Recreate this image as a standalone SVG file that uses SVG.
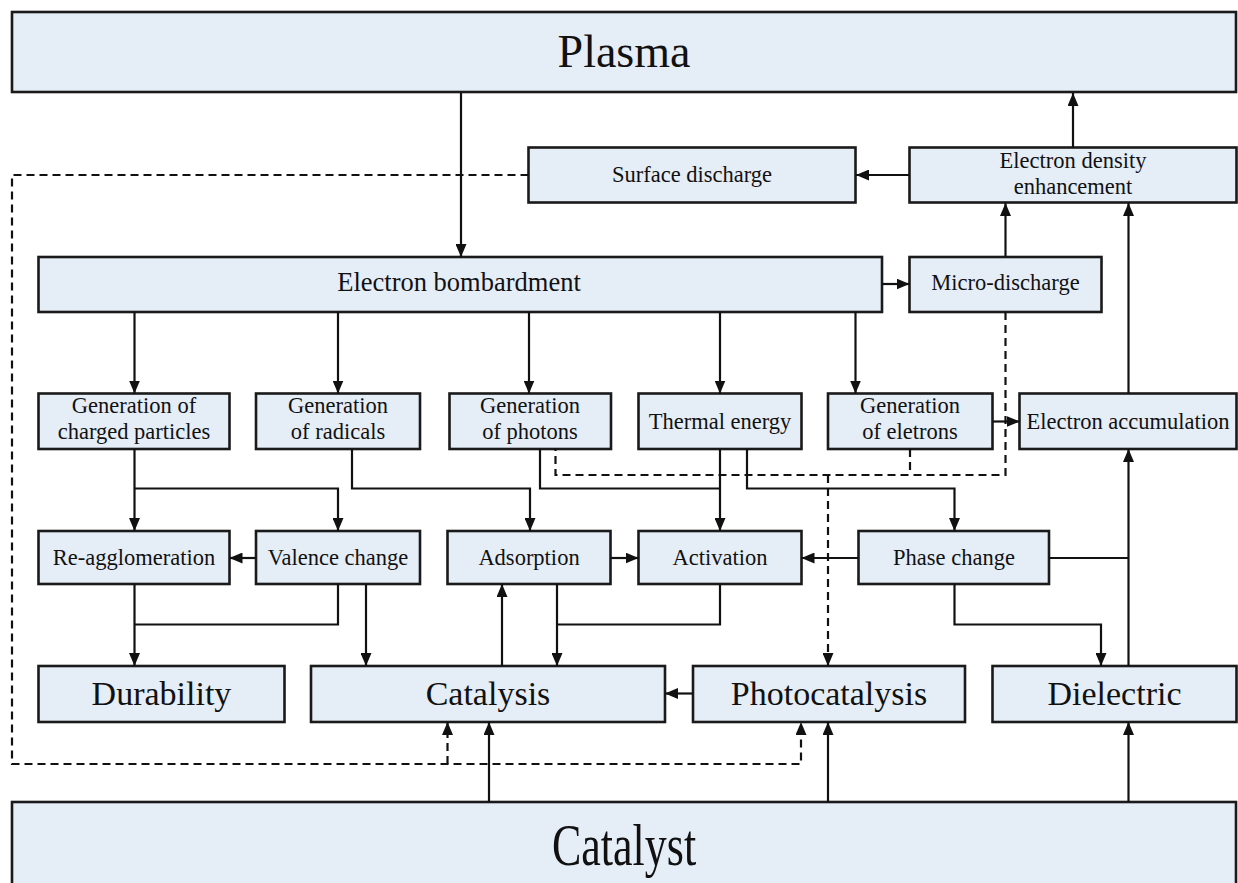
<svg xmlns="http://www.w3.org/2000/svg" width="1238" height="883" viewBox="0 0 1238 883">
<style>
.box{fill:#E5EDF7;stroke:#1a1a1a;stroke-width:2.6}
.t{font-family:"Liberation Serif","Times New Roman",serif;fill:#111;text-anchor:middle}
.s{font-size:22.5px}
.m{font-size:34px}
.c{fill:none;stroke:#111;stroke-width:2.2}
.d{fill:none;stroke:#111;stroke-width:2.2;stroke-dasharray:8 5}
</style>
<defs>
<marker id="ah" viewBox="0 0 13 11" refX="13" refY="5.5" markerWidth="13" markerHeight="11" markerUnits="userSpaceOnUse" orient="auto">
<path d="M0,0 L13,5.5 L0,11 z" fill="#111"/>
</marker>
</defs>
<rect width="1238" height="883" fill="#fff"/>

<g id="plasma"><rect class="box" x="12" y="12" width="1224" height="80"/><text class="t" x="624" y="67" font-size="46">Plasma</text></g>
<g id="catalyst"><rect class="box" x="12" y="802" width="1224" height="95"/><text class="t" font-size="44" transform="translate(624 865) scale(1 1.35)" x="0" y="0">Catalyst</text></g>
<g id="surface-discharge"><rect class="box" x="528.5" y="147.5" width="327" height="55"/><text class="t s" x="692" y="182">Surface discharge</text></g>
<g id="electron-density"><rect class="box" x="909.5" y="147.5" width="327" height="55"/><text class="t s" x="1073" y="168">Electron density</text><text class="t s" x="1073" y="194">enhancement</text></g>
<g id="electron-bombardment"><rect class="box" x="38.5" y="257" width="843.5" height="55"/><text class="t" font-size="26.5" x="459" y="290.5">Electron bombardment</text></g>
<g id="micro-discharge"><rect class="box" x="909.5" y="257" width="192" height="55"/><text class="t s" x="1005.5" y="290">Micro-discharge</text></g>

<g id="gen-charged"><rect class="box" x="38.5" y="393.5" width="191" height="55.5"/><text class="t s" x="134" y="413">Generation of</text><text class="t s" x="134" y="438.5">charged particles</text></g>
<g id="gen-radicals"><rect class="box" x="256" y="393.5" width="164" height="55.5"/><text class="t s" x="338" y="413">Generation</text><text class="t s" x="338" y="438.5">of radicals</text></g>
<g id="gen-photons"><rect class="box" x="449.5" y="393.5" width="161.5" height="55.5"/><text class="t s" x="530" y="413">Generation</text><text class="t s" x="530" y="438.5">of photons</text></g>
<g id="thermal-energy"><rect class="box" x="638.5" y="393.5" width="163" height="55.5"/><text class="t s" x="720" y="428.5">Thermal energy</text></g>
<g id="gen-electrons"><rect class="box" x="828" y="393.5" width="164.5" height="55.5"/><text class="t s" x="910" y="413">Generation</text><text class="t s" x="910" y="438.5">of eletrons</text></g>
<g id="electron-accumulation"><rect class="box" x="1019.5" y="393.5" width="217" height="55.5"/><text class="t s" x="1128" y="428.5">Electron accumulation</text></g>

<g id="re-agglomeration"><rect class="box" x="38.5" y="531" width="191" height="53"/><text class="t s" x="134" y="565">Re-agglomeration</text></g>
<g id="valence-change"><rect class="box" x="256" y="531" width="164" height="53"/><text class="t s" x="338" y="565">Valence change</text></g>
<g id="adsorption"><rect class="box" x="447.5" y="531" width="163" height="53"/><text class="t s" x="529" y="565">Adsorption</text></g>
<g id="activation"><rect class="box" x="638.5" y="531" width="163" height="53"/><text class="t s" x="720" y="565">Activation</text></g>
<g id="phase-change"><rect class="box" x="858.5" y="531" width="190.5" height="53"/><text class="t s" x="954" y="565">Phase change</text></g>

<g id="durability"><rect class="box" x="38.5" y="666" width="246" height="56"/><text class="t m" x="161.5" y="705">Durability</text></g>
<g id="catalysis"><rect class="box" x="311" y="666" width="354" height="56"/><text class="t m" x="488" y="705">Catalysis</text></g>
<g id="photocatalysis"><rect class="box" x="693" y="666" width="272" height="56"/><text class="t m" x="829" y="705">Photocatalysis</text></g>
<g id="dielectric"><rect class="box" x="992.5" y="666" width="244" height="56"/><text class="t m" x="1114.5" y="705">Dielectric</text></g>

<g id="connectors">
<path class="c" d="M461 93 V257" marker-end="url(#ah)"/>
<path class="c" d="M1073 147.5 V93" marker-end="url(#ah)"/>
<path class="c" d="M909.5 175 H856" marker-end="url(#ah)"/>
<path class="c" d="M882 284 H909.5" marker-end="url(#ah)"/>
<path class="c" d="M1005.5 257 V203" marker-end="url(#ah)"/>
<path class="c" d="M1128.5 393.5 V203" marker-end="url(#ah)"/>
<path class="c" d="M134.5 312 V393.5" marker-end="url(#ah)"/>
<path class="c" d="M338 312 V393.5" marker-end="url(#ah)"/>
<path class="c" d="M529 312 V393.5" marker-end="url(#ah)"/>
<path class="c" d="M720 312 V393.5" marker-end="url(#ah)"/>
<path class="c" d="M855.5 312 V393.5" marker-end="url(#ah)"/>
<path class="c" d="M992.5 421.5 H1019.5" marker-end="url(#ah)"/>
<path class="c" d="M134.5 449 V531" marker-end="url(#ah)"/>
<path class="c" d="M134.5 488.5 H338 V531" marker-end="url(#ah)"/>
<path class="c" d="M352 449 V488.5 H530 V531" marker-end="url(#ah)"/>
<path class="c" d="M540 449 V488.5 H720"/>
<path class="c" d="M720 449 V531" marker-end="url(#ah)"/>
<path class="c" d="M747 449 V488.5 H954.5 V531" marker-end="url(#ah)"/>
<path class="c" d="M256 558 H229.5" marker-end="url(#ah)"/>
<path class="c" d="M610.5 558 H638.5" marker-end="url(#ah)"/>
<path class="c" d="M858.5 558 H801.5" marker-end="url(#ah)"/>
<path class="c" d="M1049 558 H1128.5"/>
<path class="c" d="M1128.5 666 V449" marker-end="url(#ah)"/>
<path class="c" d="M134.5 584 V666" marker-end="url(#ah)"/>
<path class="c" d="M338 584 V624.5 H134.5"/>
<path class="c" d="M366 584 V666" marker-end="url(#ah)"/>
<path class="c" d="M502 666 V584" marker-end="url(#ah)"/>
<path class="c" d="M557 584 V666" marker-end="url(#ah)"/>
<path class="c" d="M720 584 V624.5 H557"/>
<path class="c" d="M693 693.5 H665" marker-end="url(#ah)"/>
<path class="c" d="M954.5 584 V624.5 H1101 V666" marker-end="url(#ah)"/>
<path class="c" d="M489 802 V722" marker-end="url(#ah)"/>
<path class="c" d="M828 802 V722" marker-end="url(#ah)"/>
<path class="c" d="M1128.5 802 V722" marker-end="url(#ah)"/>
<path class="d" d="M528.5 175 H12 V764 H801 V722" marker-end="url(#ah)"/>
<path class="d" d="M447.5 764 V722" marker-end="url(#ah)"/>
<path class="d" d="M1005.5 312 V475 H555.5 V449"/>
<path class="d" d="M910 449 V475"/>
<path class="d" d="M828 475 V666" marker-end="url(#ah)"/>
</g>
</svg>
